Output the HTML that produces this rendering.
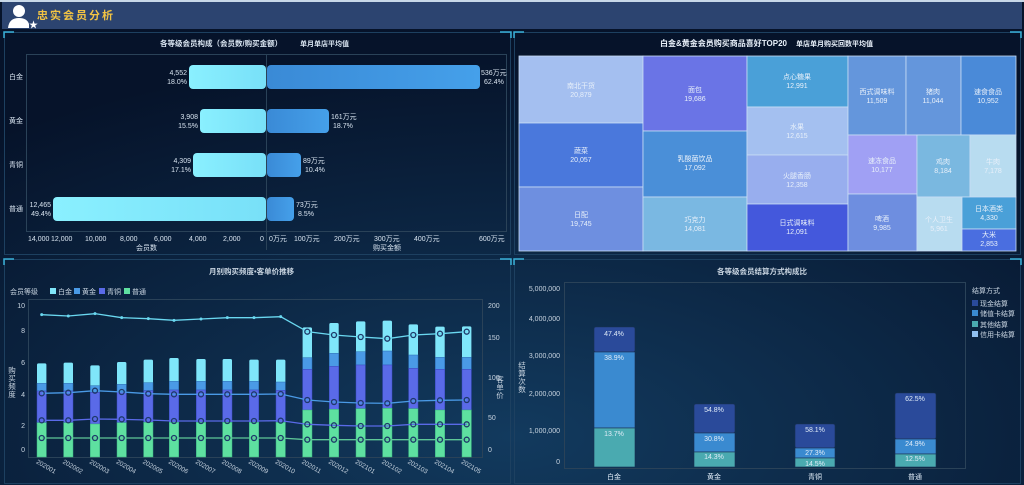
<!DOCTYPE html>
<html><head><meta charset="utf-8"><style>
html,body{margin:0;padding:0;background:#07162a;}
svg{display:block;font-family:"Liberation Sans","Noto Sans CJK SC",sans-serif;}
</style></head><body>
<svg width="1024" height="485" viewBox="0 0 1024 485" xmlns="http://www.w3.org/2000/svg">
<defs>
<radialGradient id="bg" cx="0.5" cy="0.9" r="0.8"><stop offset="0" stop-color="#123a5e"/><stop offset="1" stop-color="#06132a"/></radialGradient>
<linearGradient id="lb" x1="0" x2="1"><stop offset="0" stop-color="#8af0ff"/><stop offset="1" stop-color="#78e0f8"/></linearGradient>
<linearGradient id="rb" x1="0" x2="1"><stop offset="0" stop-color="#3a8ad6"/><stop offset="1" stop-color="#45a0ea"/></linearGradient>
</defs>
<rect width="1024" height="485" fill="url(#bg)"/>
<rect x="0" y="0" width="1024" height="2" fill="#c8d8e8"/>
<rect x="2" y="2" width="1020" height="27" fill="#2c4470"/>
<circle cx="19" cy="11" r="6" fill="#fff"/><path d="M8 28 Q9 18 19 18 Q27 18 29 24 L29 28 Z" fill="#fff"/>
<text x="29" y="28" font-size="9" fill="#fff">★</text>
<text x="37" y="19" font-size="11" font-weight="bold" fill="#f2c443" letter-spacing="2">忠实会员分析</text>
<g fill="none" stroke="#1d4060" stroke-width="1">
<rect x="4.5" y="32.5" width="506" height="222"/><rect x="514.5" y="32.5" width="506" height="222"/>
<rect x="4.5" y="259.5" width="506" height="224"/><rect x="514.5" y="259.5" width="506" height="224"/>
</g>
<g stroke="#3ab0d8" stroke-width="1.5" fill="none">
<path d="M4 38V32H14M500 32H511V38M514 38V32H524M1010 32H1021V38M4 265V259H14M500 259H511V265M514 265V259H524M1010 259H1021V265"/>
</g>
<!-- Top-left -->
<g font-size="7" fill="#d8e4f0">
<text x="160" y="46" font-weight="bold" font-size="7.5">各等级会员构成（会员数/购买金额）</text>
<text x="300" y="46" font-weight="bold">单月单店平均值</text>
<rect x="26.5" y="54.5" width="480" height="177" fill="none" stroke="#2a4258"/>
<line x1="266.5" y1="54" x2="266.5" y2="250" stroke="#2a4258"/>
<text x="9" y="79">白金</text><text x="9" y="123">黄金</text><text x="9" y="167">青铜</text><text x="9" y="211">普通</text>
<rect x="189" y="65" width="77" height="24" rx="4" fill="url(#lb)"/>
<rect x="200" y="109" width="66" height="24" rx="4" fill="url(#lb)"/>
<rect x="193" y="153" width="73" height="24" rx="4" fill="url(#lb)"/>
<rect x="53" y="197" width="213" height="24" rx="4" fill="url(#lb)"/>
<rect x="267" y="65" width="213" height="24" rx="4" fill="url(#rb)"/>
<rect x="267" y="109" width="62" height="24" rx="4" fill="url(#rb)"/>
<rect x="267" y="153" width="34" height="24" rx="4" fill="url(#rb)"/>
<rect x="267" y="197" width="27" height="24" rx="4" fill="url(#rb)"/>
<g text-anchor="end">
<text x="187" y="75">4,552</text><text x="187" y="84">18.0%</text>
<text x="198" y="119">3,908</text><text x="198" y="128">15.5%</text>
<text x="191" y="163">4,309</text><text x="191" y="172">17.1%</text>
<text x="51" y="207">12,465</text><text x="51" y="216">49.4%</text>
</g>
<text x="481" y="75">536万元</text><text x="484" y="84">62.4%</text>
<text x="331" y="119">161万元</text><text x="333" y="128">18.7%</text>
<text x="303" y="163">89万元</text><text x="305" y="172">10.4%</text>
<text x="296" y="207">73万元</text><text x="298" y="216">8.5%</text>
<text x="28" y="241">14,000</text><text x="51" y="241">12,000</text><text x="85" y="241">10,000</text><text x="120" y="241">8,000</text><text x="154" y="241">6,000</text><text x="189" y="241">4,000</text><text x="223" y="241">2,000</text><text x="260" y="241">0</text>
<text x="269" y="241">0万元</text><text x="294" y="241">100万元</text><text x="334" y="241">200万元</text><text x="374" y="241">300万元</text><text x="414" y="241">400万元</text><text x="479" y="241">600万元</text>
<text x="136" y="250">会员数</text><text x="373" y="250">购买金额</text>
</g>
<!-- Treemap -->
<g font-size="7" fill="#e8f0fa">
<text x="660" y="46" font-weight="bold" font-size="8">白金&amp;黄金会员购买商品喜好TOP20</text>
<text x="796" y="46" font-weight="bold" font-size="7">单店单月购买回数平均值</text>
<g stroke="#c8dcf4" stroke-width="0.8">
<rect x="519" y="56" width="124" height="67" fill="#a4bff0"/>
<rect x="519" y="123" width="124" height="64" fill="#4a78dc"/>
<rect x="519" y="187" width="124" height="64" fill="#6e8fe0"/>
<rect x="643" y="56" width="104" height="75" fill="#6a74e6"/>
<rect x="643" y="131" width="104" height="66" fill="#4a8fd8"/>
<rect x="643" y="197" width="104" height="54" fill="#7ab8e2"/>
<rect x="747" y="56" width="101" height="51" fill="#4aa0d8"/>
<rect x="747" y="107" width="101" height="48" fill="#a4c0f0"/>
<rect x="747" y="155" width="101" height="49" fill="#98aeee"/>
<rect x="747" y="204" width="101" height="47" fill="#4458dc"/>
<rect x="848" y="56" width="58" height="79" fill="#6496dc"/>
<rect x="906" y="56" width="55" height="79" fill="#6496dc"/>
<rect x="961" y="56" width="55" height="79" fill="#4a8ad8"/>
<rect x="848" y="135" width="69" height="59" fill="#a0a0f4"/>
<rect x="848" y="194" width="69" height="57" fill="#6e8ee0"/>
<rect x="917" y="135" width="53" height="62" fill="#7ab8e0"/>
<rect x="970" y="135" width="46" height="62" fill="#b8dcf0"/>
<rect x="917" y="197" width="45" height="54" fill="#b8dcf0"/>
<rect x="962" y="197" width="54" height="32" fill="#4aa0d8"/>
<rect x="962" y="229" width="54" height="22" fill="#4a6ee0"/>
</g>
<g text-anchor="middle">
<text x="581" y="88">南北干货</text><text x="581" y="97">20,879</text>
<text x="581" y="153">蔬菜</text><text x="581" y="162">20,057</text>
<text x="581" y="217">日配</text><text x="581" y="226">19,745</text>
<text x="695" y="92">面包</text><text x="695" y="101">19,686</text>
<text x="695" y="161">乳酸菌饮品</text><text x="695" y="170">17,092</text>
<text x="695" y="222">巧克力</text><text x="695" y="231">14,081</text>
<text x="797" y="79">点心糖果</text><text x="797" y="88">12,991</text>
<text x="797" y="129">水果</text><text x="797" y="138">12,615</text>
<text x="797" y="178">火腿香肠</text><text x="797" y="187">12,358</text>
<text x="797" y="225">日式调味料</text><text x="797" y="234">12,091</text>
<text x="877" y="94">西式调味料</text><text x="877" y="103">11,509</text>
<text x="933" y="94">猪肉</text><text x="933" y="103">11,044</text>
<text x="988" y="94">速食食品</text><text x="988" y="103">10,952</text>
<text x="882" y="163">速冻食品</text><text x="882" y="172">10,177</text>
<text x="882" y="221">啤酒</text><text x="882" y="230">9,985</text>
<text x="943" y="164">鸡肉</text><text x="943" y="173">8,184</text>
<text x="993" y="164">牛肉</text><text x="993" y="173">7,178</text>
<text x="939" y="222">个人卫生</text><text x="939" y="231">5,961</text>
<text x="989" y="211">日本酒类</text><text x="989" y="220">4,330</text>
<text x="989" y="237">大米</text><text x="989" y="246">2,853</text>
</g>
</g>
<!-- Bottom-left -->
<g font-size="7" fill="#c8d4e0">
<text x="209" y="274" font-weight="bold" font-size="7.5">月别购买频度•客单价推移</text>
<text x="10" y="294">会员等级</text>
<rect x="50" y="288" width="6" height="6" fill="#7fe6fa"/><text x="58" y="294">白金</text>
<rect x="74" y="288" width="6" height="6" fill="#4a9ae6"/><text x="82" y="294">黄金</text>
<rect x="99" y="288" width="6" height="6" fill="#5a6ae8"/><text x="107" y="294">青铜</text>
<rect x="124" y="288" width="6" height="6" fill="#5ee0a0"/><text x="132" y="294">普通</text>
<rect x="28.5" y="299.5" width="454" height="158" fill="none" stroke="#2a4258"/>
<g text-anchor="end"><text x="25" y="308">10</text><text x="25" y="333">8</text><text x="25" y="365">6</text><text x="25" y="397">4</text><text x="25" y="428">2</text><text x="25" y="452">0</text></g>
<text x="488" y="308">200</text><text x="488" y="340">150</text><text x="488" y="380">100</text><text x="488" y="420">50</text><text x="488" y="452">0</text>
<text font-size="7.5" text-anchor="middle"><tspan x="12" y="373">购</tspan><tspan x="12" y="381">买</tspan><tspan x="12" y="389">频</tspan><tspan x="12" y="397">度</tspan></text>
<text font-size="7.5" text-anchor="middle"><tspan x="500" y="382">客</tspan><tspan x="500" y="390">单</tspan><tspan x="500" y="398">价</tspan></text>
<g id="bars"></g>
</g>
<!-- Bottom-right -->
<g font-size="7" fill="#c8d4e0">
<text x="717" y="274" font-weight="bold" font-size="7.5">各等级会员结算方式构成比</text>
<rect x="564.5" y="282.5" width="401" height="186" fill="none" stroke="#2a4258"/>
<g text-anchor="end"><text x="560" y="291">5,000,000</text><text x="560" y="321">4,000,000</text><text x="560" y="358">3,000,000</text><text x="560" y="396">2,000,000</text><text x="560" y="433">1,000,000</text><text x="560" y="464">0</text></g>
<text font-size="7.5" text-anchor="middle"><tspan x="522" y="368">结</tspan><tspan x="522" y="376">算</tspan><tspan x="522" y="384">次</tspan><tspan x="522" y="392">数</tspan></text>
<g stroke="#1a3050" stroke-width="0.6">
<rect x="594" y="327" width="41" height="25" rx="2" fill="#2a4a9a"/><rect x="594" y="352" width="41" height="76" fill="#3a8ad0"/><rect x="594" y="428" width="41" height="39" fill="#4aaab0"/>
<rect x="694" y="404" width="41" height="29" rx="2" fill="#2a4a9a"/><rect x="694" y="433" width="41" height="19" fill="#3a8ad0"/><rect x="694" y="452" width="41" height="15" fill="#4aaab0"/>
<rect x="795" y="424" width="40" height="24" rx="2" fill="#2a4a9a"/><rect x="795" y="448" width="40" height="10" fill="#3a8ad0"/><rect x="795" y="458" width="40" height="9" fill="#4aaab0"/>
<rect x="895" y="393" width="41" height="46" rx="2" fill="#2a4a9a"/><rect x="895" y="439" width="41" height="15" fill="#3a8ad0"/><rect x="895" y="454" width="41" height="13" fill="#4aaab0"/>
</g>
<g text-anchor="middle" fill="#e0ecf8">
<text x="614" y="336">47.4%</text><text x="614" y="360">38.9%</text><text x="614" y="436">13.7%</text>
<text x="714" y="412">54.8%</text><text x="714" y="441">30.8%</text><text x="714" y="459">14.3%</text>
<text x="815" y="432">58.1%</text><text x="815" y="455">27.3%</text><text x="815" y="466">14.5%</text>
<text x="915" y="401">62.5%</text><text x="915" y="446">24.9%</text><text x="915" y="461">12.5%</text>
<text x="614" y="479">白金</text><text x="714" y="479">黄金</text><text x="815" y="479">青铜</text><text x="915" y="479">普通</text>
</g>
<text x="972" y="293">结算方式</text>
<rect x="972" y="300" width="6" height="6" fill="#2a4a9a"/><text x="980" y="306">现金结算</text>
<rect x="972" y="310" width="6" height="6" fill="#3a8ad0"/><text x="980" y="316">储值卡结算</text>
<rect x="972" y="321" width="6" height="6" fill="#4aaab0"/><text x="980" y="327">其他结算</text>
<rect x="972" y="331" width="6" height="6" fill="#90c0f0"/><text x="980" y="337">信用卡结算</text>
</g>
</svg>
<script>
(function(){
var ns="http://www.w3.org/2000/svg",g=document.getElementById("bars");
function el(t,a,txt){var e=document.createElementNS(ns,t);for(var k in a)e.setAttribute(k,a[k]);if(txt)e.textContent=txt;g.appendChild(e);return e;}
var X=[41.7,68.3,95,121.7,148.3,174,201,227.3,254,280.7,307.3,334,360.7,387.3,413.3,440,466.7];
var T=[325,323,331,321,314,309,312,312,314,314,217,204,199,197,208,215,214];
var G=[385,385,392,388,383,379,379,379,379,381,308,295,290,288,300,307,307];
var B=[408,408,412,410,407,405,405,405,405,406,343,334,330,330,340,343,343];
var N=[503,503,507,503,502,502,502,502,502,502,465,463,461,460,461,465,465];
var L1=[179,183,176,188,191,196,192,188,188,185,230,240,246,251,240,236,230];
var L2=[415,413,407,411,416,418,418,418,418,417,435,441,444,445,438,436,435];
var L3=[496,496,492,493,495,498,498,498,498,497,508,511,513,513,508,508,508];
var L4=[549,549,549,549,549,549,549,549,549,549,554,554,554,554,554,554,554];
function r(z){return 255+z/3;}
var names=["202001","202002","202003","202004","202005","202006","202007","202008","202009","202010","202011","202012","202101","202102","202103","202104","202105"];
for(var i=0;i<17;i++){var x=X[i]-4.7,w=9.4;
el("rect",{x:x,y:r(T[i]),width:w,height:r(G[i])-r(T[i])+2,rx:1.5,fill:"#7fe6fa"});
el("rect",{x:x,y:r(G[i]),width:w,height:r(B[i])-r(G[i]),fill:"#4a9ae6",stroke:"#2a6ab0","stroke-width":0.5});
el("rect",{x:x,y:r(B[i]),width:w,height:r(N[i])-r(B[i]),fill:"#5a6ae8",stroke:"#3a4ac0","stroke-width":0.5});
el("rect",{x:x,y:r(N[i]),width:w,height:457-r(N[i]),fill:"#5ee0a0",stroke:"#3ab080","stroke-width":0.5});
el("text",{x:X[i]-6,y:463,transform:"rotate(30 "+(X[i]-6)+" 463)","font-size":"6.5",fill:"#c8d4e0"},names[i]);}
var Ls=[[L1,"#6ad8f0"],[L2,"#4a9ae6"],[L3,"#5a6ae8"],[L4,"#5ec898"]];
Ls.forEach(function(l,j){var p="";for(var i=0;i<17;i++)p+=(i?"L":"M")+X[i]+" "+r(l[0][i]);
el("path",{d:p,fill:"none",stroke:l[1],"stroke-width":1.3});
for(var i=0;i<17;i++){if(j==0&&i<10)el("circle",{cx:X[i],cy:r(l[0][i]),r:1.5,fill:l[1]});else el("circle",{cx:X[i],cy:r(l[0][i]),r:2.5,fill:"none",stroke:"#1e3a6a","stroke-width":1.3});}});
})();
</script>
</body></html>
